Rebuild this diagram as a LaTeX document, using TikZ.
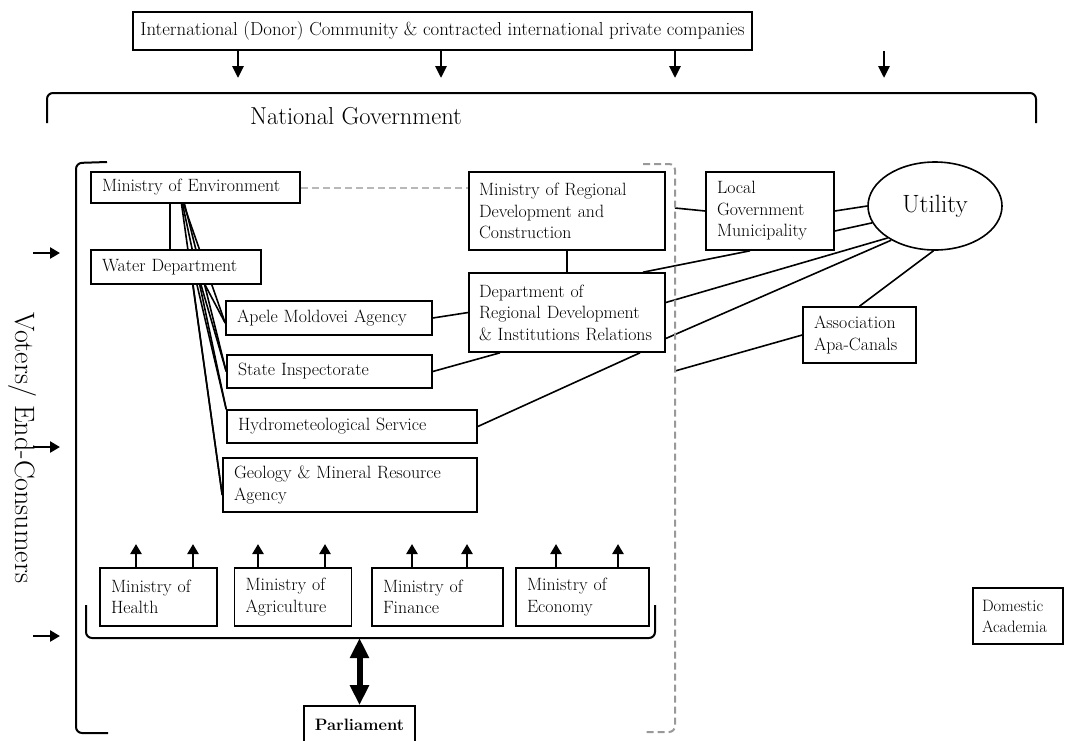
\documentclass[tikz,border=0pt]{standalone}
\usepackage{fontspec}
\usetikzlibrary{arrows.meta,shapes.geometric,backgrounds,calc}
\newcommand\boxfont{\fontsize{17.8pt}{21.5pt}\selectfont}
\newcommand\smallboxfont{\fontsize{16.5pt}{21pt}\selectfont}
\newcommand\topfont{\fontsize{18.8pt}{22pt}\selectfont}
\begin{document}
\begin{tikzpicture}[x=1pt,y=-1pt,
  box/.style={draw, line width=1.6pt, fill=white, inner xsep=11pt, inner ysep=0pt, align=left, font=\boxfont},
  ln/.style={line width=1.6pt},
  arr/.style={line width=2.8pt, -{Triangle[length=12pt,width=11pt]}},
  brk/.style={line width=2pt, rounded corners=6pt},
  gdash/.style={line width=2pt, draw=black!40, dash pattern=on 7pt off 4pt},
]
\useasboundingbox (0,0) rectangle (1066,740);

% top
\node[box, inner xsep=4pt, minimum width=619pt, minimum height=38pt, align=center, font=\topfont] (top) at (442.5,31)
  {International (Donor) Community \& contracted international private companies};
\coordinate (t1) at (238,78);
\coordinate (t2) at (441,78);
\coordinate (t3) at (675,78);
\coordinate (t4) at (884,78);
\foreach \t in {t1,t2,t3,t4} \draw[arr] (top.south -| \t) -- (\t);
\draw[brk] (47,123) -- (47,93) -- (1036,93) -- (1036,123);

\node[font=\fontsize{24.5pt}{28pt}\selectfont] (natgov) at (356,116) {National Government};

% left bracket and voters
\draw[brk] (107,162) -- (76,163) -- (76,733) -- (108,733);
\node[rotate=-90, font=\fontsize{28pt}{32pt}\selectfont] (voters) at (22,448) {Voters/ End-Consumers};
\foreach \y/\n in {253/a,447/b,636/c}{
  \coordinate (v\n s) at (33,\y);
  \coordinate (v\n e) at (60,\y);
  \draw[line width=2.8pt, -{Triangle[length=10pt,width=11pt]}] (v\n s) -- (v\n e);
}

% gray dashed bracket
\draw[gdash, rounded corners=6pt] (643,164) -- (675,164) -- (675,732) -- (645,732);
\coordinate (dA) at (675,208);
\coordinate (dB) at (675,371);

% boxes
\node[box, text width=187pt, minimum height=31pt] (minenv) at (195.5,187.5) {Ministry of Environment};
\node[box, text width=148pt, minimum height=34pt] (water) at (176,267) {Water Department};
\node[box, text width=184pt, minimum height=34pt] (apele) at (329,318) {Apele Moldovei Agency};
\node[box, text width=183pt, minimum height=33pt] (state) at (329.5,371.5) {State Inspectorate};
\node[box, text width=228pt, minimum height=33pt] (hydro) at (352,426.5) {Hydrometeological Service};
\node[box, text width=232pt, minimum height=54pt] (geology) at (350,485) {Geology \& Mineral Resource\\Agency};
\node[box, inner xsep=10pt, text width=176pt, minimum height=78pt] (minreg) at (567,211) {Ministry of Regional\\Development and\\Construction};
\node[box, inner xsep=10pt, text width=176pt, minimum height=79pt] (dept) at (567,312.5) {Department of\\Regional Development\\\& Institutions Relations};
\node[box, text width=106pt, minimum height=78pt] (local) at (770,211) {Local\\Government\\Municipality};
\node[draw, ellipse, line width=1.6pt, fill=white, minimum width=134pt, minimum height=88pt, inner sep=0pt,
  font=\fontsize{25pt}{28pt}\selectfont] (utility) at (935,206) {Utility};
\node[box, text width=91pt, minimum height=56pt] (assoc) at (859.5,335) {Association\\Apa-Canals};
\node[box, inner xsep=9pt, text width=72pt, minimum height=56pt, font=\smallboxfont] (academia) at (1018,616) {Domestic\\Academia};

\node[box, text width=95pt, minimum height=58pt] (health) at (158.5,597) {Ministry of\\Health};
\node[box, text width=95pt, minimum height=58pt] (agri) at (293,597) {Ministry of\\Agriculture};
\node[box, text width=109pt, minimum height=58pt] (finance) at (437.5,597) {Ministry of\\Finance};
\node[box, text width=111pt, minimum height=58pt] (economy) at (582.5,597) {Ministry of\\Economy};
\node[box, align=center, minimum width=111pt, minimum height=38pt, font=\smallboxfont\bfseries] (parl) at (359.5,725) {Parliament};

% up arrows
\foreach \x/\m in {136/health,193/health,258/agri,325/agri,412/finance,467/finance,556/economy,618/economy}{
  \coordinate (u\x) at (\x,544);
  \draw[line width=2.8pt, -{Triangle[length=10pt,width=11pt]}] (\m.north -| u\x) -- (u\x);
}
% ministries bracket and parliament arrow
\draw[brk] (86,605) -- (86,638) -- (655,638) -- (655,605);
\coordinate (pb) at (359.5,638);
\draw[line width=6pt, {Triangle[length=20pt,width=18pt]}-{Triangle[length=20pt,width=18pt]}] (pb) -- (parl.north);

% connectors (behind boxes)
\begin{scope}[on background layer]
  \draw[gdash, draw=black!28] (minenv.east) -- (minreg.west |- minenv.east);
  \draw[ln] ([xshift=-25.5pt]minenv.south) -- ([xshift=-6pt]water.north);
  \draw[ln] ([xshift=-12pt]minenv.south) -- ([yshift=-5pt]apele.west);
  \draw[ln] ([xshift=-11pt]minenv.south) -- (state.west);
  \draw[ln] ([xshift=-13pt]minenv.south) -- (hydro.north west);
  \draw[ln] ([xshift=-14pt]minenv.south) -- ([yshift=-10pt]geology.west);
  \draw[ln] ([xshift=17pt]water.south) -- ([yshift=-10pt]geology.west);
  \draw[ln] ([xshift=21pt]water.south) -- (hydro.north west);
  \draw[ln] ([xshift=25pt]water.south) -- (state.west);
  \draw[ln] ([xshift=29pt]water.south) -- ([yshift=-5pt]apele.west);
  \draw[ln] (minreg.south) -- (dept.north);
  \draw[ln] (apele.east) -- (dept.west);
  \draw[ln] (state.east) -- ([xshift=-67pt]dept.south);
  \draw[ln] (hydro.east) -- ([xshift=73pt]dept.south);
  \draw[ln] (dA) -- (local.west);
  \draw[ln] (local.east) -- (utility.180);
  \draw[ln] ([yshift=-20pt]local.east) -- (utility.195);
  \draw[ln] ([xshift=-20pt]local.south) -- ([xshift=76pt]dept.north);
  \draw[ln] (utility.214) -- ([yshift=10pt]dept.east);
  \draw[ln] (utility.218) -- ([yshift=-26pt]dept.east);
  \draw[ln] (utility.268) -- (assoc.north);
  \draw[ln] (assoc.west) -- (dB);
\end{scope}
\end{tikzpicture}
\end{document}
